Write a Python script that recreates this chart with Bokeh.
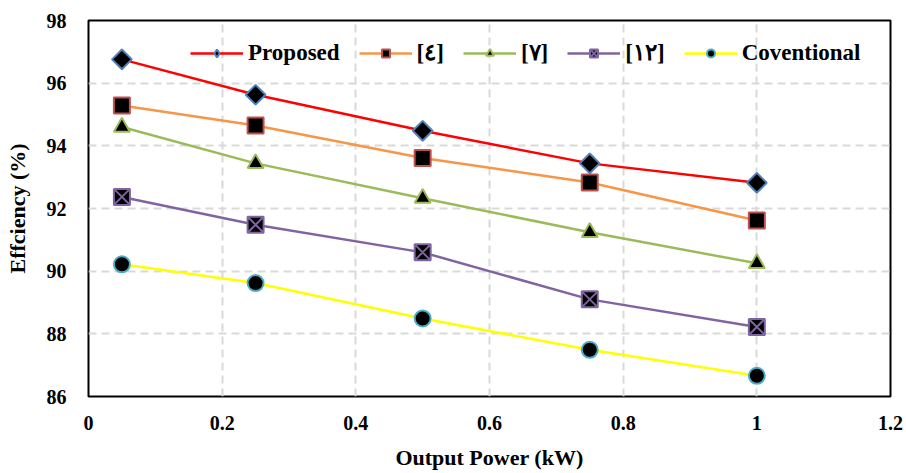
import math
from bokeh.plotting import figure
from bokeh.models import Range1d, FixedTicker, Legend, LegendItem
from bokeh.embed import file_html
from bokeh.resources import INLINE

x_power = [0.05, 0.25, 0.5, 0.75, 1.0]
proposed = [96.76, 95.63, 94.48, 93.44, 92.82]
ref4 = [95.29, 94.65, 93.61, 92.83, 91.62]
ref7 = [94.6, 93.44, 92.33, 91.24, 90.25]
ref12 = [92.37, 91.48, 90.6, 89.1, 88.22]
conventional = [90.22, 89.62, 88.49, 87.49, 86.66]

x_ticks = [0, 0.2, 0.4, 0.6, 0.8, 1.0, 1.2]
y_ticks = [86, 88, 90, 92, 94, 96, 98]

FONT = "Liberation Serif"

p = figure(width=906, height=473, output_backend="svg", toolbar_location=None,
           x_range=Range1d(0, 1.2), y_range=Range1d(86, 98),
           min_border_left=88, min_border_right=16, min_border_top=20, min_border_bottom=77)
p.background_fill_color = "white"
p.border_fill_color = "white"
p.outline_line_color = "black"
p.outline_line_width = 2

p.xaxis.ticker = FixedTicker(ticks=x_ticks)
p.yaxis.ticker = FixedTicker(ticks=y_ticks)
p.xaxis.major_label_overrides = {0: "0", 1.0: "1"}
for ax in (p.xaxis, p.yaxis):
    ax.axis_line_color = None
    ax.major_tick_line_color = None
    ax.minor_tick_line_color = None
    ax.major_label_text_font = FONT
    ax.major_label_text_font_style = "bold"
    ax.major_label_text_font_size = "20px"
    ax.major_label_text_color = "black"
    ax.axis_label_text_font = FONT
    ax.axis_label_text_font_style = "bold"
    ax.axis_label_text_font_size = "22px"
    ax.axis_label_text_color = "black"
p.xaxis.axis_label = "Output Power (kW)"
p.yaxis.axis_label = "Effciency (%)"
p.xaxis.major_label_standoff = 13
p.yaxis.major_label_standoff = 16
p.xaxis.axis_label_standoff = 12
p.yaxis.axis_label_standoff = 14

for g in (p.xgrid, p.ygrid):
    g.grid_line_color = "#d9d9d9"
    g.grid_line_dash = "8 5"
    g.grid_line_width = 2

series = [
    ("Proposed", proposed, "#ff0000", "square", "#4f81bd", 14, math.pi / 4, "diamond"),
    ("[٤]", ref4, "#f79646", "square", "#c0504d", 16, 0, "square"),
    ("[٧]", ref7, "#9bbb59", "triangle", "#9bbb59", 16, 0, "triangle"),
    ("[١٢]", ref12, "#8064a2", "square_x", "#8064a2", 16, 0, "square_x"),
    ("Coventional", conventional, "#ffff00", "circle", "#4bacc6", 16, 0, "circle"),
]

items = []
for name, ys, lc, marker, mc, size, ang, lmarker in series:
    l = p.line(x_power, ys, line_color=lc, line_width=2.5)
    # small marker used as legend sample; hidden beneath the larger data marker
    s = p.scatter(x_power, ys, marker=lmarker, size=11, fill_color="black",
                  line_color=mc, line_width=2)
    p.scatter(x_power, ys, marker=marker, size=size, angle=ang, fill_color="black",
              line_color=mc, line_width=2)
    items.append(LegendItem(label=name, renderers=[l, s]))

legend = Legend(items=items, orientation="horizontal", location=(102, 330),
                background_fill_alpha=0, border_line_color=None,
                label_text_font=FONT, label_text_font_style="bold",
                label_text_font_size="23px", label_text_color="black",
                glyph_width=53, glyph_height=20, spacing=19, label_standoff=5,
                padding=4, margin=0)
p.add_layout(legend, "center")

open("out.html", "w").write(file_html(p, INLINE))
